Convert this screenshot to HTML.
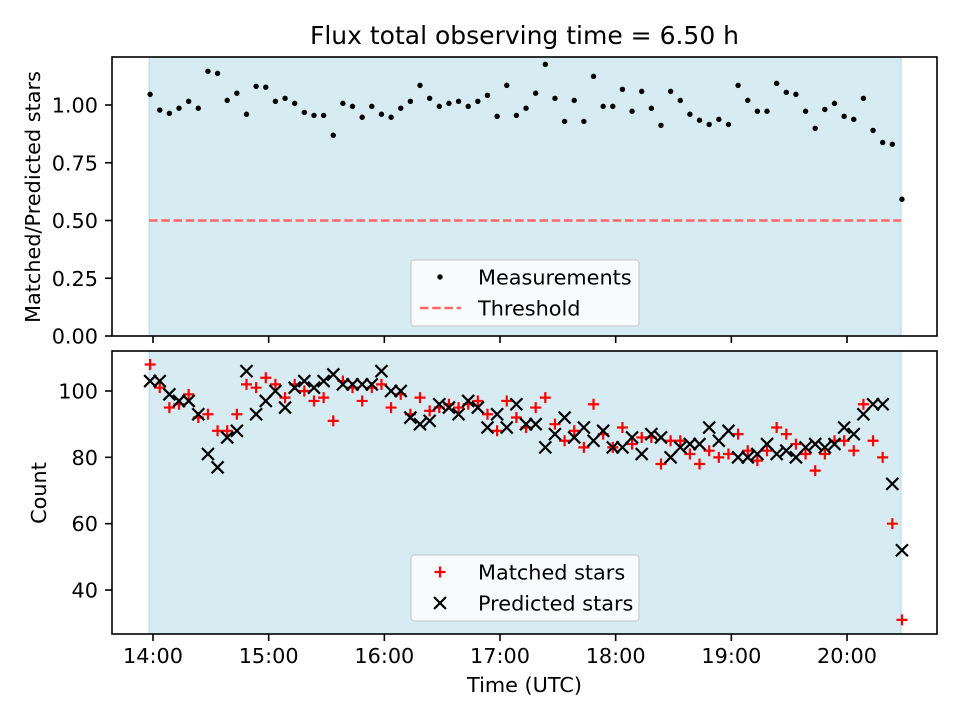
<!DOCTYPE html>
<html><head><meta charset="utf-8"><style>
html,body{margin:0;padding:0;background:#fff;}
svg{display:block;font-family:"DejaVu Sans","Liberation Sans",sans-serif;}
</style></head><body>
<svg id="chart" width="960" height="720" viewBox="0 0 960 720" xmlns="http://www.w3.org/2000/svg">
<text x="524.5" y="44" font-size="25" text-anchor="middle">Flux total observing time = 6.50 h</text>
<g id="top"></g><g id="bot"></g>
<text transform="translate(40,197) rotate(-90)" font-size="20.8" text-anchor="middle">Matched/Predicted stars</text>
<text transform="translate(46,493) rotate(-90)" font-size="20.8" text-anchor="middle">Count</text>
<text x="524.5" y="692" font-size="20.8" text-anchor="middle">Time (UTC)</text>
</svg>
<script>
// minutes after 13:58.5
const timesMin=[0,5,10,15,20,25,30,35,40,45,50,55,60,65,70,75,80,85,90,95,100,105,110,115,120,125,130,135,140,145,150,155,160,165,170,175,180,185,190,195,200,205,210,215,220,225,230,235,240,245,250,255,260,265,270,275,280,285,290,295,300,305,310,315,320,325,330,335,340,345,350,355,360,365,370,375,380,385,390];
const ratioValues=[1.046,0.978,0.964,0.986,1.016,0.986,1.146,1.137,1.020,1.051,0.960,1.081,1.077,1.016,1.029,1.007,0.968,0.955,0.955,0.869,1.007,0.994,0.947,0.994,0.960,0.947,0.986,1.016,1.085,1.029,0.994,1.007,1.016,0.994,1.016,1.042,0.951,1.085,0.955,0.986,1.051,1.176,1.029,0.929,1.020,0.929,1.124,0.994,0.994,1.068,0.973,1.059,0.986,0.912,1.059,1.020,0.960,0.934,0.916,0.938,0.916,1.085,1.020,0.973,0.973,1.094,1.055,1.046,0.973,0.899,0.981,1.007,0.951,0.938,1.029,0.890,0.838,0.830,0.592];
const predictedValues=[103,103,99,97,97,93,81,77,86,88,106,93,97,100,95,101,103,101,103,105,102,102,102,102,106,100,100,92,90,91,96,95,93,97,95,89,93,89,96,90,90,83,87,92,86,89,85,88,83,83,86,81,87,86,80,83,84,84,89,85,88,80,80,81,84,81,82,80,83,84,83,84,89,87,93,96,96,72,52];
const matchedValues=[108,101,95,96,99,92,93,88,88,93,102,101,104,102,98,102,100,97,98,91,103,101,97,101,102,95,99,93,98,94,95,96,95,96,97,93,88,97,92,89,95,98,90,85,88,83,96,87,83,89,84,86,86,78,85,85,81,78,82,80,81,87,82,79,82,89,87,84,81,76,81,85,85,82,96,85,80,60,31];
const thresholdValue=0.5;
const topTicks=[0,0.25,0.5,0.75,1.0];
const topTickLabels=["0.00","0.25","0.50","0.75","1.00"];
const botTicks=[40,60,80,100];
const xTickHours=[0,1,2,3,4,5,6];
const xTickLabels=["14:00","15:00","16:00","17:00","18:00","19:00","20:00"];
const spanMin=[-0.5,389.5];

const NS="http://www.w3.org/2000/svg";
const L=112,R=937;
const FS=20.8;
const pxPerMin=115.67/60;
const X0=153-1.5*pxPerMin;
function xs(m){return X0+m*pxPerMin;}
function xh(h){return 153+h*115.67;}
function yTop(v){return 336-v*231;}
function yBot(v){return 391+(100-v)*3.317;}
function mk(parent,tag,attrs,text){const e=document.createElementNS(NS,tag);for(const k in attrs)e.setAttribute(k,attrs[k]);if(text!==undefined)e.textContent=text;parent.appendChild(e);return e;}

function frame(g,T,B,name){
  const sp=mk(g,'rect',{x:xs(spanMin[0]),y:T,width:xs(spanMin[1])-xs(spanMin[0]),height:B-T,fill:'#add8e6','fill-opacity':0.5,stroke:'#add8e6','stroke-width':1});
  
  
}
function axesBox(g,T,B,name,labels){
  const r=mk(g,'rect',{x:L,y:T,width:R-L,height:B-T,fill:'none',stroke:'#000','stroke-width':1.6});
  
  
  xTickHours.forEach((h,i)=>{
    const t=mk(g,'line',{x1:xh(h),x2:xh(h),y1:B,y2:B+7,stroke:'#000','stroke-width':1.6});
    
    
    if(labels){
      const tx=mk(g,'text',{x:xh(h),y:B+29,'font-size':FS,'text-anchor':'middle'},xTickLabels[i]);
      
      
    }
  });
}
function legend(g,y,name,entries){
  const b=mk(g,'rect',{x:411,y:y,width:228,height:66,rx:3,fill:'#fff','fill-opacity':0.8,stroke:'#ccc','stroke-width':1.2});
  
  
  entries.forEach((e,i)=>{
    const cy=y+17+i*31;
    e.draw(g,440,cy);
    const t=mk(g,'text',{x:478,y:cy+7.5,'font-size':FS},e.label);
    
    
  });
}
function dot(g,x,y){return mk(g,'circle',{cx:x,cy:y,r:2.7,fill:'#000'});}
function plus(g,x,y){return mk(g,'path',{d:`M${x-5.5},${y}H${x+5.5}M${x},${y-5.5}V${y+5.5}`,stroke:'#ff0000','stroke-width':2.2,fill:'none'});}
function cross(g,x,y){return mk(g,'path',{d:`M${x-6},${y-6}L${x+6},${y+6}M${x-6},${y+6}L${x+6},${y-6}`,stroke:'#000','stroke-width':2.2,fill:'none'});}

// TOP
const gt=document.getElementById('top');
frame(gt,57,336,'top');
const th=mk(gt,'line',{x1:xs(spanMin[0]),x2:xs(spanMin[1]),y1:yTop(thresholdValue),y2:yTop(thresholdValue),stroke:'#ff6666','stroke-width':2.4,'stroke-dasharray':'8.5,3.7'});


timesMin.forEach((m,i)=>{
  const d=dot(gt,xs(m),yTop(ratioValues[i]));
  
  
});
axesBox(gt,57,336,'top',false);
topTicks.forEach((v,i)=>{
  const t=mk(gt,'line',{x1:L-7,x2:L,y1:yTop(v),y2:yTop(v),stroke:'#000','stroke-width':1.6});
  
  
  const tx=mk(gt,'text',{x:L-14,y:yTop(v)+7.5,'font-size':FS,'text-anchor':'end'},topTickLabels[i]);
  
  
});
legend(gt,260,'top-legend',[
  {label:'Measurements',draw:(g,x,y)=>{const d=dot(g,x,y);}},
  {label:'Threshold',draw:(g,x,y)=>{const l=mk(g,'line',{x1:420,x2:461,y1:y,y2:y,stroke:'#ff6666','stroke-width':2.4,'stroke-dasharray':'8.5,3.7'});}}
]);

// BOTTOM
const gb=document.getElementById('bot');
frame(gb,351,634,'bottom');
timesMin.forEach((m,i)=>{
  const p=plus(gb,xs(m),yBot(matchedValues[i]));
  
  
});
timesMin.forEach((m,i)=>{
  const c=cross(gb,xs(m),yBot(predictedValues[i]));
  
  
});
axesBox(gb,351,634,'bottom',true);
botTicks.forEach(v=>{
  const t=mk(gb,'line',{x1:L-7,x2:L,y1:yBot(v),y2:yBot(v),stroke:'#000','stroke-width':1.6});
  
  
  const tx=mk(gb,'text',{x:L-14,y:yBot(v)+7.5,'font-size':FS,'text-anchor':'end'},String(v));
  
  
});
legend(gb,555,'bottom-legend',[
  {label:'Matched stars',draw:(g,x,y)=>{const p=plus(g,x,y);}},
  {label:'Predicted stars',draw:(g,x,y)=>{const c=cross(g,x,y);}}
]);
</script>
</body></html>
